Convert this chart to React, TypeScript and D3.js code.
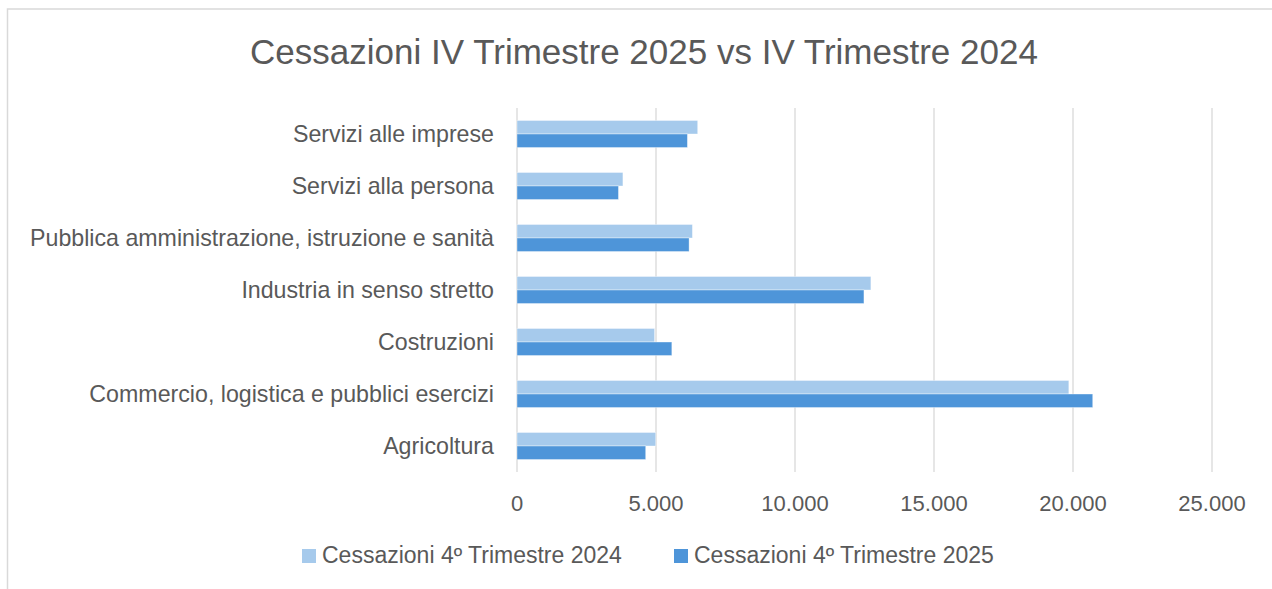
import React from 'react';
import * as d3 from 'd3';

const categories = [
  'Servizi alle imprese',
  'Servizi alla persona',
  'Pubblica amministrazione, istruzione e sanità',
  'Industria in senso stretto',
  'Costruzioni',
  'Commercio, logistica e pubblici esercizi',
  'Agricoltura',
];
const cessazioni2024 = [6500, 3810, 6310, 12730, 4950, 19850, 4990];
const cessazioni2025 = [6130, 3650, 6190, 12480, 5570, 20710, 4630];
const seriesNames = ['Cessazioni 4º Trimestre 2024', 'Cessazioni 4º Trimestre 2025'];
const xTicks = [0, 5000, 10000, 15000, 20000, 25000];

const W = 1272;
const H = 589;
const FONT = '"Liberation Sans", Arial, sans-serif';
const TEXT = '#595959';
const GRID = '#d9d9d9';
const COLORS = ['#a6caec', '#4e95d9'];

const itFormat = d3.formatLocale({
  decimal: ',',
  thousands: '.',
  grouping: [3],
  currency: ['', '€'],
}).format(',d');

const App: React.FC = () => {
  const x = d3.scaleLinear().domain([0, 25000]).range([517, 1212]);
  const y = d3
    .scaleBand<string>()
    .domain(categories)
    .range([108, 472])
    .paddingInner(0.48)
    .paddingOuter(0.24);
  const sub = d3.scaleBand<number>().domain([0, 1]).range([0, y.bandwidth()]);
  const series = [cessazioni2024, cessazioni2025];

  return (
    <svg
      width={W}
      height={H}
      style={{ position: 'absolute', left: 0, top: 0, background: '#fff' }}
    >
      <rect x={7.5} y={9} width={1300} height={700} fill="#fff" stroke={GRID} strokeWidth={1.5} />

      <text
        x={644}
        y={64}
        textAnchor="middle"
        fontFamily={FONT}
        fontSize={35}
        fill={TEXT}
      >
        Cessazioni IV Trimestre 2025 vs IV Trimestre 2024
      </text>

      {xTicks.map((t) => (
        <g key={t}>
          <line x1={x(t)} x2={x(t)} y1={108} y2={472} stroke={GRID} strokeWidth={1.3} />
          <text
            x={x(t)}
            y={511}
            textAnchor="middle"
            fontFamily={FONT}
            fontSize={22}
            fill={TEXT}
          >
            {itFormat(t)}
          </text>
        </g>
      ))}

      {categories.map((c, i) => (
        <g key={c}>
          <text
            x={494}
            y={(y(c) ?? 0) + y.bandwidth() / 2 + 7.5}
            textAnchor="end"
            fontFamily={FONT}
            fontSize={23.2}
            fill={TEXT}
          >
            {c}
          </text>
          {series.map((s, k) => (
            <rect
              key={k}
              x={x(0)}
              y={(y(c) ?? 0) + (sub(k) ?? 0)}
              width={x(s[i]) - x(0)}
              height={sub.bandwidth()}
              fill={COLORS[k]}
              stroke="#fff"
              strokeOpacity={0.5}
              strokeWidth={0.75}
            />
          ))}
        </g>
      ))}

      {seriesNames.map((n, k) => {
        const lx = [302, 674][k];
        return (
          <g key={n}>
            <rect x={lx} y={549} width={14} height={14} fill={COLORS[k]} />
            <text x={lx + 20} y={563} fontFamily={FONT} fontSize={23} fill={TEXT}>
              {n}
            </text>
          </g>
        );
      })}
    </svg>
  );
};

export default App;
